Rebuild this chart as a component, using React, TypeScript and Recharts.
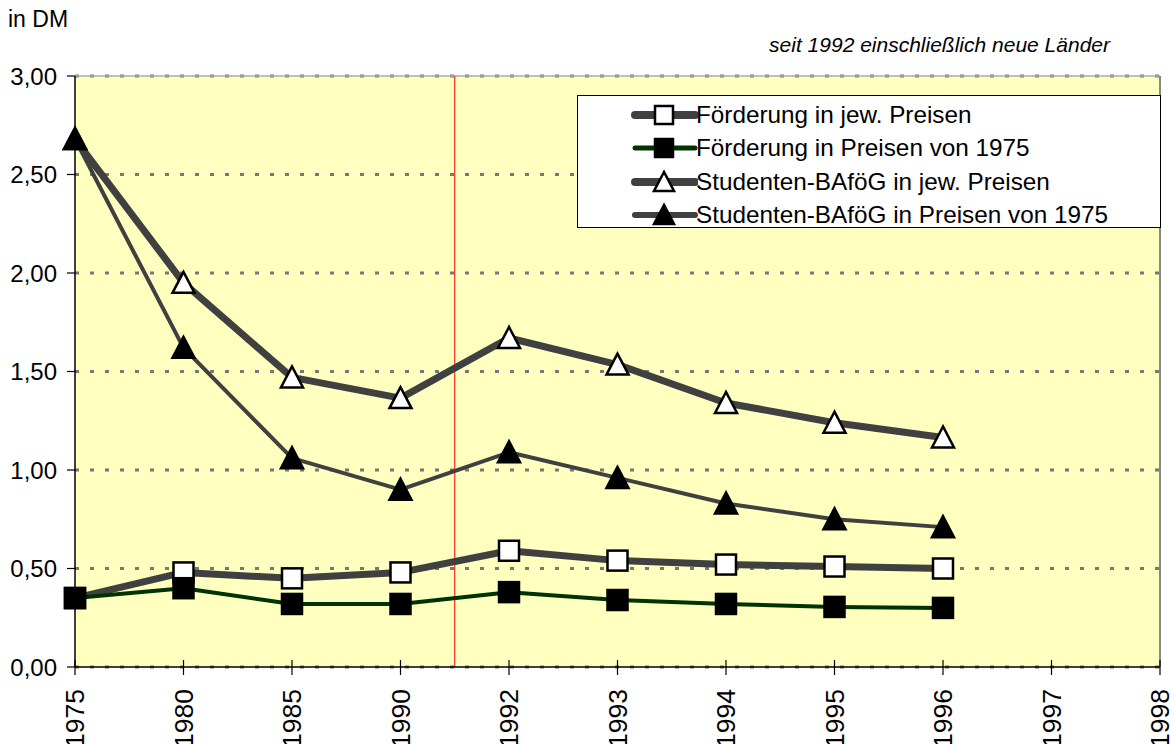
import React from 'react'
import { LineChart, Line, XAxis, YAxis, CartesianGrid, ReferenceLine } from 'recharts'

const years = ['1975', '1980', '1985', '1990', '1992', '1993', '1994', '1995', '1996', '1997', '1998']
const foerderungJew = [0.35, 0.48, 0.45, 0.48, 0.59, 0.54, 0.52, 0.51, 0.50]
const foerderung1975 = [0.35, 0.40, 0.32, 0.32, 0.38, 0.34, 0.32, 0.305, 0.30]
const studJew = [2.68, 1.95, 1.47, 1.365, 1.67, 1.535, 1.34, 1.24, 1.165]
const stud1975 = [2.68, 1.62, 1.06, 0.90, 1.09, 0.96, 0.83, 0.75, 0.71]
const yTicks = [0, 0.5, 1, 1.5, 2, 2.5, 3]

const data = years.map((year, i) => ({
  idx: i,
  year,
  fJew: foerderungJew[i],
  f1975: foerderung1975[i],
  sJew: studJew[i],
  s1975: stud1975[i],
}))

const FONT = '"Liberation Sans", Arial, sans-serif'
const GRAY = '#404040'
const AXIS_Y = 667

const square = (fill: string) => (props: any) => {
  const { cx, cy, key } = props
  if (cx == null || cy == null || props.value == null) return <g key={key} />
  return <rect key={key} x={cx - 10} y={cy - 10} width={20} height={20} fill={fill} stroke="#000" strokeWidth={2.5} />
}

const triangle = (fill: string) => (props: any) => {
  const { cx, cy, key } = props
  if (cx == null || cy == null || props.value == null) return <g key={key} />
  return (
    <polygon
      key={key}
      points={`${cx},${cy - 11} ${cx - 11},${cy + 10} ${cx + 11},${cy + 10}`}
      fill={fill}
      stroke="#000"
      strokeWidth={2.5}
    />
  )
}

const XTick = (props: any) => {
  const { x, payload } = props
  return (
    <g>
      <line x1={x} x2={x} y1={AXIS_Y - 7} y2={AXIS_Y + 8} stroke="#000" strokeWidth={1.2} />
      <text
        transform={`translate(${x + 9},${AXIS_Y + 22}) rotate(-90)`}
        textAnchor="end"
        fontSize={26.5}
        fontFamily={FONT}
        fill="#000"
      >
        {years[payload.value]}
      </text>
    </g>
  )
}

const legendItems = [
  { label: 'Förderung in jew. Preisen', color: GRAY, width: 8, marker: 'sq', fill: '#fff' },
  { label: 'Förderung in Preisen von 1975', color: '#003300', width: 5, marker: 'sq', fill: '#000' },
  { label: 'Studenten-BAföG in jew. Preisen', color: GRAY, width: 8, marker: 'tri', fill: '#fff' },
  { label: 'Studenten-BAföG in Preisen von 1975', color: GRAY, width: 6, marker: 'tri', fill: '#000' },
]

const LegendBox = () => (
  <div
    style={{
      position: 'absolute',
      left: 577,
      top: 95,
      width: 584,
      height: 133,
      background: '#fff',
      border: '1px solid #000',
      boxSizing: 'border-box',
      paddingTop: 2,
      fontFamily: FONT,
      fontSize: 24.3,
    }}
  >
    {legendItems.map((it) => (
      <div key={it.label} style={{ display: 'flex', alignItems: 'center', height: 33.5 }}>
        <svg width={120} height={30} style={{ flex: 'none' }}>
          <line x1={57} x2={117} y1={15} y2={15} stroke={it.color} strokeWidth={it.width} strokeLinecap="round" />
          {it.marker === 'sq' ? (
            <rect x={77} y={6} width={18} height={18} fill={it.fill} stroke="#000" strokeWidth={2.5} />
          ) : (
            <polygon points="86,5 76,24 96,24" fill={it.fill} stroke="#000" strokeWidth={2.5} />
          )}
        </svg>
        <span style={{ whiteSpace: 'nowrap', marginLeft: -2 }}>{it.label}</span>
      </div>
    ))}
  </div>
)

export default function App() {
  return (
    <div style={{ position: 'absolute', left: 0, top: 0, width: 1173, height: 744, background: '#fff' }}>
      <div style={{ position: 'absolute', left: 8, top: 6, fontFamily: FONT, fontSize: 23 }}>in DM</div>
      <div
        style={{
          position: 'absolute',
          right: 63,
          top: 33,
          fontFamily: FONT,
          fontSize: 21,
          fontStyle: 'italic',
          whiteSpace: 'nowrap',
        }}
      >
        seit 1992 einschließlich neue Länder
      </div>
      <LineChart width={1173} height={744} data={data} margin={{ top: 76, right: 13, bottom: 0, left: 0 }}>
        <CartesianGrid vertical={false} stroke="#777" strokeWidth={3} strokeDasharray="4 11" fill="#FFFFC0" />
        <XAxis
          dataKey="idx"
          type="number"
          domain={[0, 10]}
          ticks={[0, 1, 2, 3, 4, 5, 6, 7, 8, 9, 10]}
          height={77}
          tickSize={0}
          tickMargin={0}
          tickLine={false}
          tick={<XTick />}
          axisLine={{ stroke: '#000', strokeWidth: 1.5 }}
          interval={0}
        />
        <YAxis
          domain={[0, 3]}
          ticks={yTicks}
          width={75}
          tickSize={8}
          tickMargin={10}
          tickFormatter={(v: number) => v.toFixed(2).replace('.', ',')}
          tick={{ fill: '#000', fontSize: 24, fontFamily: FONT }}
          tickLine={{ stroke: '#000', strokeWidth: 1.2 }}
          axisLine={{ stroke: '#000', strokeWidth: 1.5 }}
          interval={0}
        />
        <ReferenceLine y={3} stroke="#aaa" strokeWidth={1.5} />
        <ReferenceLine x={10} stroke="#888" strokeWidth={2} />
        <ReferenceLine x={3.5} stroke="#ff0000" strokeWidth={1} />
        <Line
          dataKey="fJew"
          name="Förderung in jew. Preisen"
          stroke={GRAY}
          strokeWidth={7}
          strokeLinejoin="round"
          dot={square('#fff')}
          isAnimationActive={false}
        />
        <Line
          dataKey="f1975"
          name="Förderung in Preisen von 1975"
          stroke="#003300"
          strokeWidth={4}
          strokeLinejoin="round"
          dot={square('#000')}
          isAnimationActive={false}
        />
        <Line
          dataKey="sJew"
          name="Studenten-BAföG in jew. Preisen"
          stroke={GRAY}
          strokeWidth={7}
          strokeLinejoin="round"
          dot={triangle('#fff')}
          isAnimationActive={false}
        />
        <Line
          dataKey="s1975"
          name="Studenten-BAföG in Preisen von 1975"
          stroke={GRAY}
          strokeWidth={4}
          strokeLinejoin="round"
          dot={triangle('#000')}
          isAnimationActive={false}
        />
      </LineChart>
      <LegendBox />
    </div>
  )
}
